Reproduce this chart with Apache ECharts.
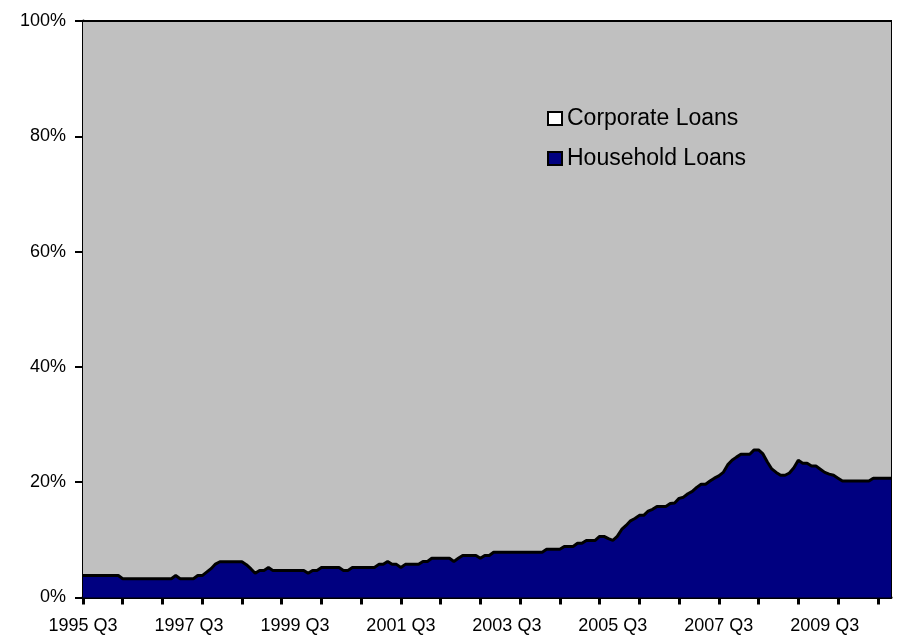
<!DOCTYPE html>
<html>
<head>
<meta charset="utf-8">
<script src="https://cdn.jsdelivr.net/npm/echarts@6/dist/echarts.min.js"></script>
<style>
html,body{margin:0;padding:0;background:#fff;}
#chart{width:899px;height:638px;}
</style>
</head>
<body>
<div id="chart"></div>
<script>
// Monthly observations starting July 1995 (1995 Q3)
const startYear = 1995;
const startMonth = 7;
const pointCount = 184;
const categories = [];
for (let i = 0; i < pointCount; i++) {
  const m = startMonth - 1 + i;
  const y = startYear + Math.floor(m / 12);
  const mm = (m % 12) + 1;
  categories.push(y + '-' + (mm < 10 ? '0' + mm : mm));
}

const seriesNames = ['Corporate Loans', 'Household Loans'];

// Household loans share (%)
const household = [
  3.8,3.8,3.8,3.8,3.8,3.8,3.8,3.8,3.8,
  3.25,3.25,3.25,3.25,3.25,3.25,3.25,3.25,3.25,3.25,3.25,3.25,
  3.8,
  3.25,3.25,3.25,3.25,
  3.8,3.8,
  4.4,5.0,5.8,
  6.2,6.2,6.2,6.2,6.2,6.2,
  5.7,5.0,4.2,
  4.7,4.7,
  5.2,
  4.7,4.7,4.7,4.7,4.7,4.7,4.7,4.7,
  4.2,
  4.7,4.7,
  5.2,5.2,5.2,5.2,5.2,
  4.7,4.7,
  5.2,5.2,5.2,5.2,5.2,5.2,
  5.75,5.75,
  6.25,
  5.75,5.75,
  5.2,
  5.75,5.75,5.75,5.75,
  6.25,6.25,
  6.8,6.8,6.8,6.8,6.8,
  6.25,
  6.8,
  7.3,7.3,7.3,7.3,
  6.8,
  7.3,7.3,
  7.85,7.85,7.85,7.85,7.85,7.85,7.85,7.85,7.85,7.85,7.85,7.85,
  8.35,8.35,8.35,8.35,
  8.85,8.85,8.85,
  9.4,9.4,
  9.9,9.9,9.9,
  10.6,10.6,
  10.2,
  9.9,
  10.6,
  11.8,
  12.5,
  13.3,
  13.7,
  14.25,14.25,
  15.0,
  15.3,
  15.8,15.8,15.8,
  16.3,
  16.4,
  17.2,
  17.4,
  18.0,
  18.4,
  19.1,
  19.65,19.65,
  20.2,
  20.7,
  21.1,
  21.7,
  23.0,
  23.8,
  24.35,
  24.85,24.85,24.85,
  25.6,25.6,
  24.9,
  23.5,
  22.3,
  21.7,
  21.2,21.2,
  21.6,
  22.5,
  23.8,
  23.3,23.3,
  22.8,22.8,
  22.25,
  21.7,
  21.4,
  21.2,
  20.7,
  20.2,20.2,20.2,20.2,20.2,20.2,20.2,
  20.7,20.7,20.7,20.7,20.7
];

// Corporate loans share (%), the remainder of each 100% column
const corporate = [
  96.2,96.2,96.2,96.2,96.2,96.2,96.2,96.2,96.2,
  96.75,96.75,96.75,96.75,96.75,96.75,96.75,96.75,96.75,96.75,96.75,96.75,
  96.2,
  96.75,96.75,96.75,96.75,
  96.2,96.2,
  95.6,95.0,94.2,
  93.8,93.8,93.8,93.8,93.8,93.8,
  94.3,95.0,95.8,
  95.3,95.3,
  94.8,
  95.3,95.3,95.3,95.3,95.3,95.3,95.3,95.3,
  95.8,
  95.3,95.3,
  94.8,94.8,94.8,94.8,94.8,
  95.3,95.3,
  94.8,94.8,94.8,94.8,94.8,94.8,
  94.25,94.25,
  93.75,
  94.25,94.25,
  94.8,
  94.25,94.25,94.25,94.25,
  93.75,93.75,
  93.2,93.2,93.2,93.2,93.2,
  93.75,
  93.2,
  92.7,92.7,92.7,92.7,
  93.2,
  92.7,92.7,
  92.15,92.15,92.15,92.15,92.15,92.15,92.15,92.15,92.15,92.15,92.15,92.15,
  91.65,91.65,91.65,91.65,
  91.15,91.15,91.15,
  90.6,90.6,
  90.1,90.1,90.1,
  89.4,89.4,
  89.8,
  90.1,
  89.4,
  88.2,
  87.5,
  86.7,
  86.3,
  85.75,85.75,
  85.0,
  84.7,
  84.2,84.2,84.2,
  83.7,
  83.6,
  82.8,
  82.6,
  82.0,
  81.6,
  80.9,
  80.35,80.35,
  79.8,
  79.3,
  78.9,
  78.3,
  77.0,
  76.2,
  75.65,
  75.15,75.15,75.15,
  74.4,74.4,
  75.1,
  76.5,
  77.7,
  78.3,
  78.8,78.8,
  78.4,
  77.5,
  76.2,
  76.7,76.7,
  77.2,77.2,
  77.75,
  78.3,
  78.6,
  78.8,
  79.3,
  79.8,79.8,79.8,79.8,79.8,79.8,79.8,
  79.3,79.3,79.3,79.3,79.3
];

const yTicks = [0, 20, 40, 60, 80, 100];

const chart = echarts.init(document.getElementById('chart'), null, {renderer: 'canvas'});
const font = 'Liberation Sans, Arial, sans-serif';

chart.setOption({
  animation: false,
  backgroundColor: '#ffffff',
  grid: {
    left: 83, right: 8, top: 21, bottom: 40.5,
    show: true, borderColor: '#000', borderWidth: 2, backgroundColor: 'transparent'
  },
  legend: {
    orient: 'vertical',
    left: 547,
    top: 107,
    padding: 0,
    icon: 'rect',
    itemWidth: 14,
    itemHeight: 13,
    itemGap: 17,
    textStyle: {fontFamily: font, fontSize: 23, lineHeight: 22, color: '#000'},
    data: [
      {name: seriesNames[0], itemStyle: {color: '#ffffff', borderColor: '#000', borderWidth: 2}},
      {name: seriesNames[1], itemStyle: {color: '#000080', borderColor: '#000', borderWidth: 2}}
    ]
  },
  xAxis: {
    type: 'category',
    data: categories,
    boundaryGap: false,
    axisLine: {show: true, lineStyle: {color: '#000', width: 3}},
    axisTick: {
      show: true, length: 7, lineStyle: {color: '#000', width: 3},
      interval: function (idx) { return idx % 9 === 0; }
    },
    axisLabel: {
      interval: function (idx) { return idx % 24 === 0; },
      margin: 20,
      color: '#000',
      fontFamily: font,
      fontSize: 18,
      formatter: function (v) {
        const p = v.split('-');
        const q = Math.floor((parseInt(p[1], 10) - 1) / 3) + 1;
        return p[0] + ' Q' + q;
      }
    },
    splitLine: {show: false}
  },
  yAxis: {
    type: 'value',
    min: yTicks[0],
    max: yTicks[yTicks.length - 1],
    interval: 20,
    axisLine: {show: true, lineStyle: {color: '#000', width: 3}},
    axisTick: {show: true, length: 8, lineStyle: {color: '#000', width: 2}},
    axisLabel: {
      margin: 17, color: '#000', fontFamily: font, fontSize: 18,
      formatter: '{value}%'
    },
    splitLine: {show: false}
  },
  series: [
    {
      name: seriesNames[1],
      type: 'line',
      stack: 'total',
      data: household,
      symbol: 'none',
      z: 3,
      lineStyle: {color: '#000', width: 3},
      itemStyle: {color: '#000080'},
      areaStyle: {color: '#000080', opacity: 1}
    },
    {
      name: seriesNames[0],
      type: 'line',
      stack: 'total',
      data: corporate,
      symbol: 'none',
      z: 2,
      lineStyle: {color: '#000', width: 2},
      itemStyle: {color: '#C0C0C0'},
      areaStyle: {color: '#C0C0C0', opacity: 1}
    }
  ]
});
</script>
</body>
</html>
